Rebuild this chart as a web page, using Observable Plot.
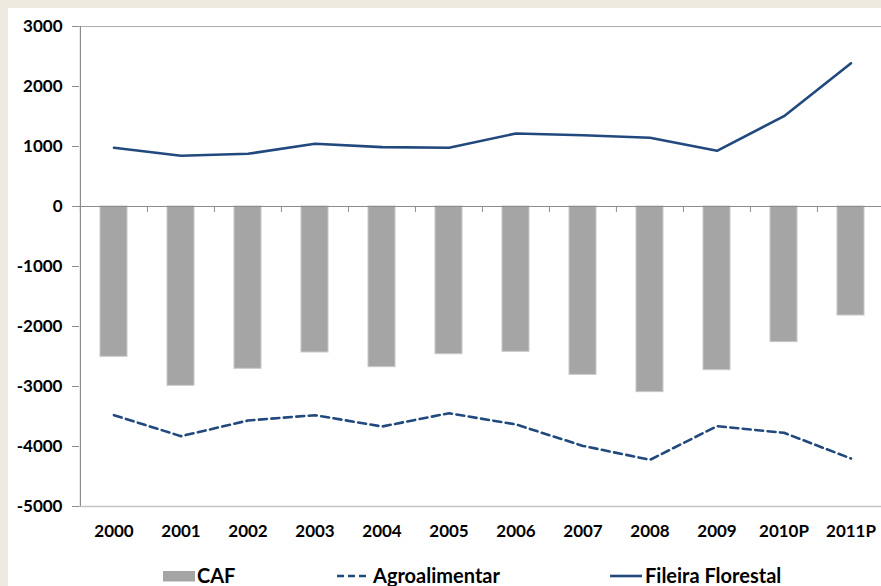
<!DOCTYPE html>
<html>
<head>
<meta charset="utf-8">
<script src="https://cdn.jsdelivr.net/npm/d3@7"></script>
<script src="https://cdn.jsdelivr.net/npm/@observablehq/plot@0.6"></script>
<style>
  html, body { margin: 0; padding: 0; background: #EDEADF; width: 881px; height: 586px; overflow: hidden; }
  #panel { position: absolute; left: 8px; top: 8px; width: 873px; height: 578px; background: #fff; overflow: hidden;
           font-family: Lato, "Open Sans", sans-serif; }
  #chart svg { overflow: visible; display: block; }
  .lg { position: absolute; font-weight: bold; font-size: 20px; line-height: 1.2; color: #000; white-space: nowrap; }
  .sw { position: absolute; }
</style>
</head>
<body>
<div id="panel">
  <div id="chart"></div>
  <div id="legend"></div>
</div>
<script>
// Balança comercial por fileira (milhões de euros)
const years = ["2000", "2001", "2002", "2003", "2004", "2005", "2006", "2007", "2008", "2009", "2010P", "2011P"];
const caf = [-2505, -2988, -2705, -2433, -2678, -2462, -2422, -2806, -3094, -2728, -2261, -1817];
const agroalimentar = [-3478, -3828, -3567, -3478, -3667, -3445, -3633, -3990, -4222, -3661, -3772, -4200];
const fileiraFlorestal = [978, 845, 878, 1045, 990, 978, 1217, 1188, 1145, 928, 1505, 2388];
const yTicks = [3000, 2000, 1000, 0, -1000, -2000, -3000, -4000, -5000];
const seriesNames = ["CAF", "Agroalimentar", "Fileira Florestal"];

const blue = "#21497E";
const barFill = "#A5A5A5";
const axisGray = "#8C8C8C";

const rows = years.map((year, i) => ({
  year, caf: caf[i], agro: agroalimentar[i], florestal: fileiraFlorestal[i]
}));

// horizontal extent of the category bands (the last band runs past the panel edge)
const xLeft = 71, xRight = 877;
const step = (xRight - xLeft) / years.length;

const chart = Plot.plot({
  width: 873,
  height: 548,
  marginTop: 18,
  marginBottom: 50,
  marginLeft: 71,
  marginRight: 0,
  x: { type: "band", domain: years, range: [xLeft, xRight], padding: 0, label: null },
  y: { domain: [-5000, 3000], label: null },
  style: { fontFamily: "Lato, 'Open Sans', sans-serif", fontSize: "17px", fontWeight: "bold", color: "#000", background: "transparent" },
  marks: [
    Plot.barY(rows, { x: "year", y: "caf", fill: barFill, stroke: "#C8C8C8", strokeWidth: 1,
                      insetLeft: 20, insetRight: 20 }),
    // top border and bottom axis line
    Plot.ruleY([3000], { stroke: "#ABABAB", strokeWidth: 1 }),
    Plot.ruleY([-5000], { stroke: "#C4C4C4", strokeWidth: 1.5 }),
    // zero line with category separators
    Plot.ruleY([0], { stroke: axisGray, strokeWidth: 1.2 }),
    Plot.ruleX(years, { x: d => d, y1: 0, y2: -100, dx: -step / 2, stroke: axisGray, strokeWidth: 1 }),
    // vertical axis line
    Plot.ruleX([years[0]], { y1: -5000, y2: 3000, dx: -step / 2, stroke: axisGray, strokeWidth: 1.2 }),
    Plot.axisY(yTicks, { tickSize: 7, tickPadding: 10, stroke: axisGray, fill: "#000", label: null,
                         tickFormat: d => String(d), fontSize: 17, fontWeight: "bold" }),
    Plot.axisX({ anchor: "bottom", tickSize: 0, tickPadding: 18, fill: "#000", label: null,
                 fontSize: 17, fontWeight: "bold" }),
    Plot.line(rows, { x: "year", y: "agro", stroke: blue, strokeWidth: 2.6, strokeDasharray: "8,4.5" }),
    Plot.line(rows, { x: "year", y: "florestal", stroke: blue, strokeWidth: 2.6 })
  ]
});
document.getElementById("chart").appendChild(chart);

// legend below the plot
const legend = document.getElementById("legend");
const items = [
  { name: seriesNames[0], sw: 155, tx: 189, kind: "bar" },
  { name: seriesNames[1], sw: 329, tx: 365, kind: "dash" },
  { name: seriesNames[2], sw: 602, tx: 637, kind: "line" }
];
for (const it of items) {
  const s = document.createElementNS("http://www.w3.org/2000/svg", "svg");
  s.setAttribute("class", "sw");
  s.setAttribute("width", 33);
  s.setAttribute("height", 12);
  s.style.left = it.sw + "px";
  s.style.top = "562px";
  if (it.kind === "bar") {
    s.innerHTML = `<rect x="0" y="1" width="32" height="10.5" fill="${barFill}"/>`;
  } else {
    s.innerHTML = `<line x1="0" x2="32" y1="6" y2="6" stroke="${blue}" stroke-width="2.6" ${it.kind === "dash" ? 'stroke-dasharray="7,4"' : ""}/>`;
  }
  legend.appendChild(s);
  const t = document.createElement("div");
  t.className = "lg";
  t.style.left = it.tx + "px";
  t.style.top = "555px";
  t.textContent = it.name;
  legend.appendChild(t);
}
</script>
</body>
</html>
